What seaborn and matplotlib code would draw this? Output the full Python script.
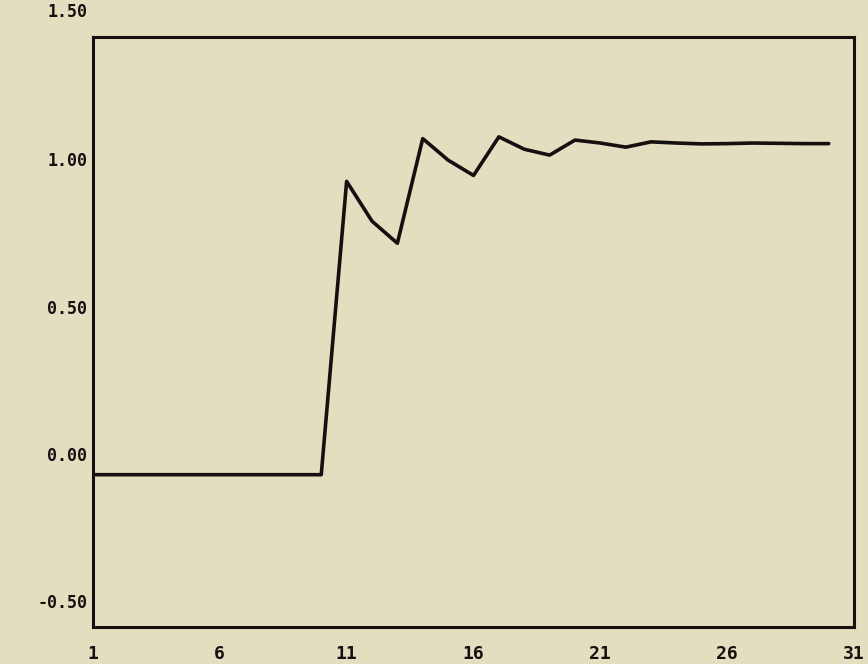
import numpy as np
import pandas as pd
import seaborn as sns
import matplotlib.pyplot as plt

# step response
steps = list(range(1, 31))
response = [-0.07] * 10 + [0.925, 0.79, 0.715, 1.07, 0.997, 0.945, 1.076, 1.034,
                           1.014, 1.065, 1.055, 1.041, 1.059, 1.055, 1.052, 1.053,
                           1.055, 1.054, 1.053, 1.053]
xticks = [1, 6, 11, 16, 21, 26, 31]
yticks = [-0.5, 0.0, 0.5, 1.0]
ylabels = ["-0.50", "0.00", "0.50", "1.00"]

df = pd.DataFrame({"step": steps, "response": response})

bg = "#e4dec0"
sns.set_theme(style="white", rc={"axes.facecolor": bg, "figure.facecolor": bg})
plt.rcParams["font.family"] = ["DejaVu Sans Mono", "DejaVu Sans"]

fig = plt.figure(figsize=(8.68, 6.64), dpi=100)
ax = fig.add_axes([0.107, 0.056, 0.877, 0.888])
sns.lineplot(data=df, x="step", y="response", color="#151010", linewidth=2.6, ax=ax)

ax.set_xlim(1, 31)
ax.set_ylim(-0.586, 1.414)
ax.set_xticks(xticks)
ax.set_xticklabels([str(t) for t in xticks])
ax.set_yticks(yticks)
ax.set_yticklabels(ylabels)
ax.tick_params(length=0, labelsize=12, colors="#151010")
ax.tick_params(axis="x", pad=13, labelsize=13)
ax.tick_params(axis="y", pad=4)
for lab in ax.get_xticklabels() + ax.get_yticklabels():
    lab.set_fontweight("bold")
# the 1.50 label sits above the frame in the original
ax.text(-0.007, 1.5, "1.50", transform=ax.get_yaxis_transform(), ha="right",
        va="center", fontsize=12, fontweight="bold", color="#151010", clip_on=False)
for s in ax.spines.values():
    s.set_color("#151010")
    s.set_linewidth(2.2)
ax.set_xlabel("")
ax.set_ylabel("")

fig.savefig("out.png", dpi=100)
